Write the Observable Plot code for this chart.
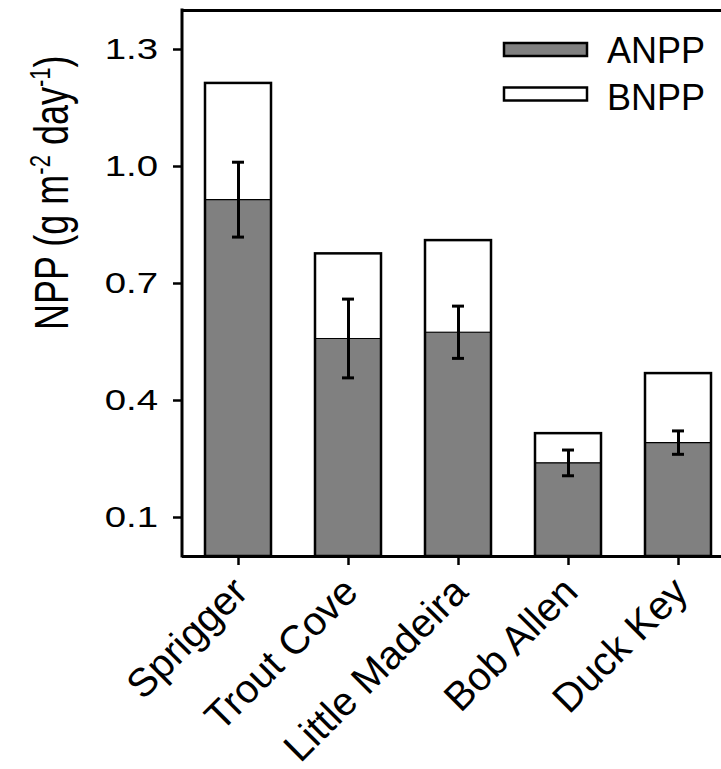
<!DOCTYPE html>
<html><head><meta charset="utf-8">
<script src="https://cdn.jsdelivr.net/npm/d3@7"></script>
<script src="https://cdn.jsdelivr.net/npm/@observablehq/plot@0.6"></script>
<style>
body{margin:0;background:#fff}
#chart svg{font-family:"Liberation Sans",Arial,Helvetica,sans-serif}
</style>
</head><body><div id="chart"></div>
<script>
// ---- data ----
const sites = ["Sprigger", "Trout Cove", "Little Madeira", "Bob Allen", "Duck Key"];
const anpp = [0.915, 0.559, 0.575, 0.240, 0.292];
const anppSE = [0.096, 0.101, 0.067, 0.033, 0.030];
const totalNPP = [1.213, 0.776, 0.810, 0.315, 0.469];
const yTicks = [0.1, 0.4, 0.7, 1.0, 1.3];
const seriesNames = ["ANPP", "BNPP"];
const seriesFills = ["#808080", "#ffffff"];

const rows = sites.map((s, i) => ({
  site: s, anpp: anpp[i], total: totalNPP[i],
  lo: anpp[i] - anppSE[i], hi: anpp[i] + anppSE[i]
}));

const W = 721, H = 769;
const plot = Plot.plot({
  width: W, height: H,
  marginTop: 10, marginBottom: 213, marginLeft: 182, marginRight: 0,
  style: {background: "#fff", fontFamily: "Liberation Sans, Arial, sans-serif", overflow: "hidden"},
  x: {type: "band", domain: sites, range: [183, 733], paddingInner: 0.4, paddingOuter: 0.2,
      label: null, tickSize: 9, tickFormat: () => ""},
  y: {domain: [0, 1.4], ticks: yTicks, tickSize: 9, tickFormat: () => "", label: null},
  marks: [
    Plot.barY(rows, {x: "site", y1: 0, y2: "total", fill: "#fff"}),
    Plot.barY(rows, {x: "site", y1: 0, y2: "anpp", fill: "#808080"}),
    Plot.tickY(rows, {x: "site", y: "anpp", stroke: "#000", strokeWidth: 1.2}),
    Plot.barY(rows, {x: "site", y1: 0, y2: "total", fill: "none", stroke: "#000", strokeWidth: 2.5}),
    Plot.ruleX(rows, {x: "site", y1: "lo", y2: "hi", stroke: "#000", strokeWidth: 3}),
    Plot.tickY(rows, {x: "site", y: "lo", stroke: "#000", strokeWidth: 3, insetLeft: 27, insetRight: 27}),
    Plot.tickY(rows, {x: "site", y: "hi", stroke: "#000", strokeWidth: 3, insetLeft: 27, insetRight: 27}),
    Plot.ruleY([0], {stroke: "#000", strokeWidth: 3}),
    Plot.ruleY([1.4], {stroke: "#000", strokeWidth: 3})
  ]
});
document.getElementById("chart").appendChild(plot);

const svg = d3.select(plot);
const ys = plot.scale("y");
const xs = plot.scale("x");
const yTop = ys.apply(1.4), yBot = ys.apply(0);
const xLeft = 182;

// axis tick strokes
svg.selectAll('g[aria-label="y-axis"] path, g[aria-label="y-axis tick"] path, g[aria-label="x-axis"] path, g[aria-label="x-axis tick"] path')
  .attr("stroke", "#000").attr("stroke-width", 2.5);

// left axis line
svg.append("line").attr("x1", xLeft).attr("x2", xLeft).attr("y1", yTop - 1.5).attr("y2", yBot + 1.5)
  .attr("stroke", "#000").attr("stroke-width", 3);

// y tick labels (slightly wide, as in the reference)
yTicks.forEach(t => {
  svg.append("text")
    .attr("transform", `translate(158,${ys.apply(t)}) scale(1.28,1)`)
    .attr("text-anchor", "end").attr("dy", "0.32em")
    .style("font-size", "30px").attr("fill", "#000")
    .text(d3.format(".1f")(t));
});

// x tick labels, rotated
sites.forEach(s => {
  const cx = xs.apply(s) + xs.bandwidth / 2;
  svg.append("text")
    .attr("transform", `translate(${cx + 12},${yBot + 38}) rotate(-45)`)
    .attr("text-anchor", "end")
    .style("font-size", "40px").attr("fill", "#000")
    .text(s);
});

// y-axis title with superscripts
const yt = svg.append("text")
  .attr("transform", `translate(68,330) scale(1.32,1) rotate(-90)`)
  .attr("text-anchor", "start")
  .style("font-size", "36px").attr("fill", "#000");
yt.append("tspan").text("NPP (g m");
yt.append("tspan").attr("dy", -14).style("font-size", "22px").text("-2");
yt.append("tspan").attr("dy", 14).text(" day");
yt.append("tspan").attr("dy", -14).style("font-size", "22px").text("-1");
yt.append("tspan").attr("dy", 14).text(")");

// legend
const lg = svg.append("g");
seriesNames.forEach((name, i) => {
  const y0 = 43 + i * 44.5;
  lg.append("rect").attr("x", 504).attr("y", y0).attr("width", 83).attr("height", 13)
    .attr("fill", seriesFills[i]).attr("stroke", "#000").attr("stroke-width", 2.5);
  lg.append("text").attr("x", 607).attr("y", 62.5 + i * 47).text(name)
    .attr("text-anchor", "start")
    .style("font-size", "36px").attr("fill", "#000");
});
</script></body></html>
